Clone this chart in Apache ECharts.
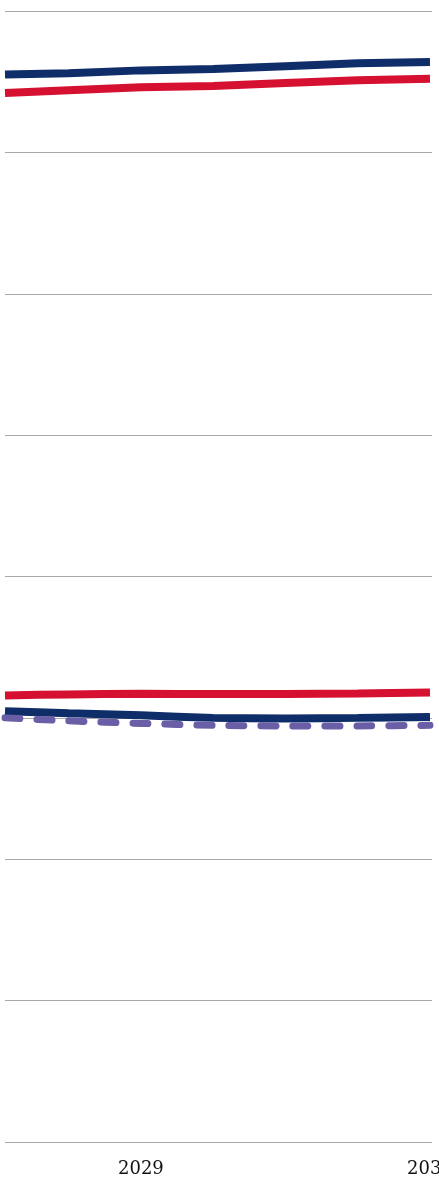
<!DOCTYPE html>
<html>
<head>
<meta charset="utf-8">
<script src="https://cdn.jsdelivr.net/npm/echarts@6/dist/echarts.min.js"></script>
<style>
html,body{margin:0;padding:0;background:#fff;}
#chart{width:439px;height:1184px;}
</style>
</head>
<body>
<div id="chart"></div>
<script>
// x positions (years, fractional)
var years = [2028.53, 2028.75, 2029, 2029.25, 2029.5, 2029.75, 2030];
var xLabels = [2029, 2030];
// upper pair
var navyUpper = [45.5, 45.6, 45.8, 45.9, 46.1, 46.3, 46.4];
var redUpper = [44.2, 44.4, 44.6, 44.7, 44.9, 45.1, 45.2];
// lower group
var redLower = [1.59, 1.66, 1.71, 1.68, 1.68, 1.73, 1.80];
var navyLower = [0.47, 0.32, 0.18, 0.0, -0.04, 0.0, 0.07];
var purpleLower = [0.0, -0.21, -0.39, -0.53, -0.57, -0.57, -0.53];

function pairs(vals){ return years.map(function(y,i){ return [y, vals[i]]; }); }

var chart = echarts.init(document.getElementById('chart'), null, {renderer:'canvas'});
var NAVY = '#0f2d69', RED = '#d51030', PURPLE = '#6a5ea7';
function lineSeries(vals, color, smooth, extra){
  var s = {
    type:'line', data: pairs(vals), showSymbol:false, symbol:'none', smooth:smooth,
    lineStyle:{color:color, width:8, cap:'butt'}, z:3, silent:true
  };
  if (extra) for (var k in extra) s[k] = extra[k];
  return s;
}
chart.setOption({
  animation:false,
  grid:{left:5, right:7, top:11, bottom:42, containLabel:false, outerBoundsMode:'none'},
  xAxis:{
    type:'value', min:2028.53, max:2030.007,
    axisLine:{show:false}, axisTick:{show:false}, splitLine:{show:false},
    axisLabel:{customValues:xLabels, margin:18, color:'#111', fontFamily:'DejaVu Serif', fontSize:18,
      hideOverlap:false, formatter:function(v){ return String(Math.round(v)); }}
  },
  yAxis:{
    type:'value', min:-30, max:50, interval:10,
    axisLine:{show:false}, axisTick:{show:false}, axisLabel:{show:false},
    splitLine:{show:true, lineStyle:{color:'#aaaaaa', width:1}}
  },
  series:[
    lineSeries(navyUpper, NAVY, false),
    lineSeries(redUpper, RED, false),
    lineSeries(redLower, RED, 0.2),
    lineSeries(navyLower, NAVY, 0.2),
    lineSeries(purpleLower, PURPLE, 0.2, {lineStyle:{color:PURPLE, width:7, type:[15,17], cap:'round'}, z:4})
  ]
});
</script>
</body>
</html>
